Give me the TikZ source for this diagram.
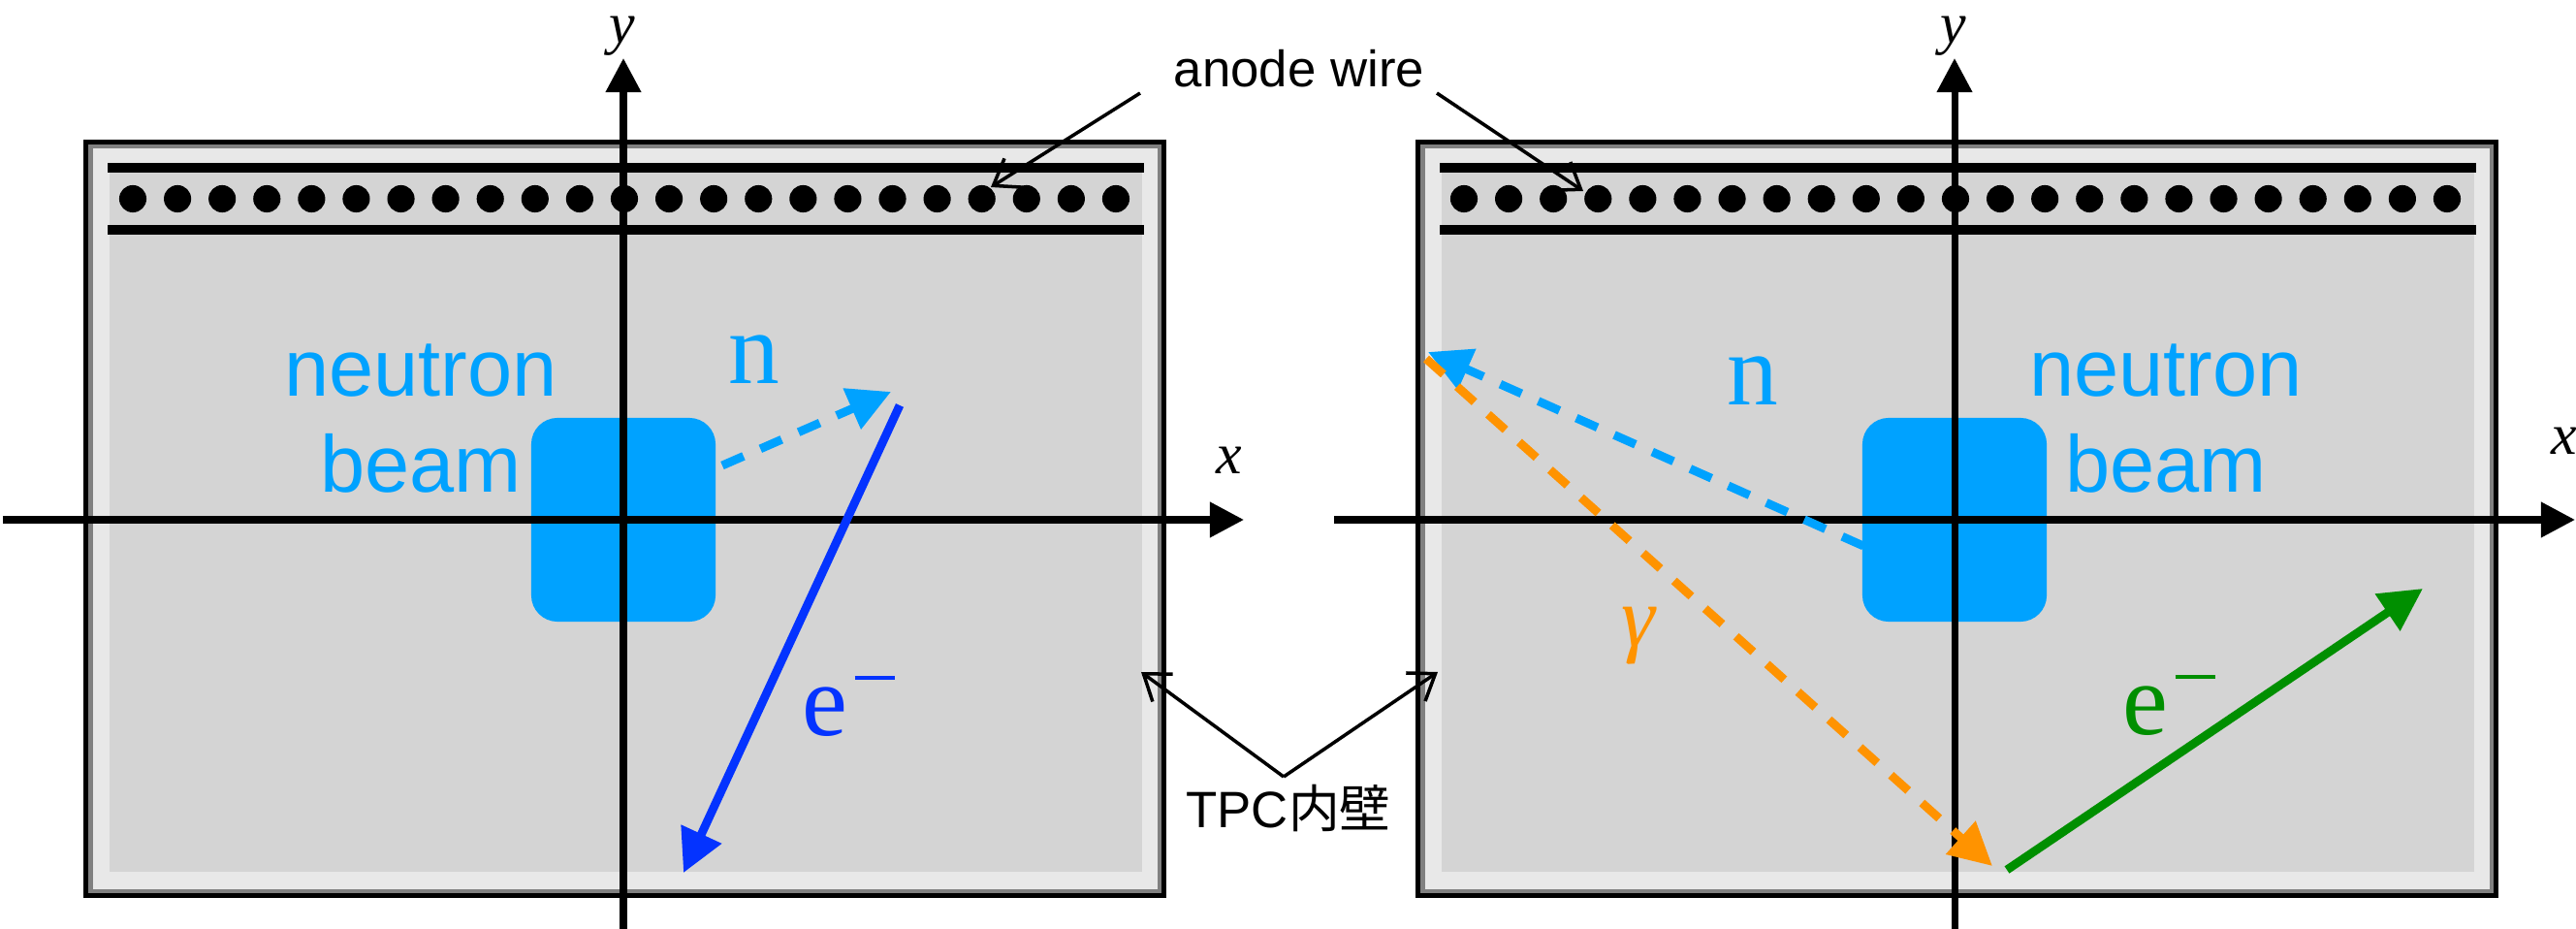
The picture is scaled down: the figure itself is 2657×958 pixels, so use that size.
\documentclass[tikz,border=0pt]{standalone}
\usepackage{fontspec}
\setmainfont{Liberation Serif}
\setsansfont{Liberation Sans}
\newfontfamily\cjk{Noto Sans CJK JP}
\usetikzlibrary{arrows.meta}
\definecolor{beamcyan}{RGB}{0,162,255}
\definecolor{eblue}{RGB}{4,51,255}
\definecolor{egreen}{RGB}{0,143,0}
\definecolor{gorange}{RGB}{255,147,0}
\definecolor{wallgray}{RGB}{212,212,212}
\definecolor{bandgray}{RGB}{232,232,232}
\definecolor{edgegray}{RGB}{128,128,128}
\newcommand{\eminus}{e\hspace{2pt}\rule[16.3pt]{11.7pt}{1.1pt}}
\begin{document}
\begin{tikzpicture}[x=0.01cm,y=-0.01cm,
  axis/.style={line width=2pt,-{Triangle[length=10pt,width=10pt]}},
  track/.style={line width=2.5pt,-{Triangle[length=12.5pt,width=12.5pt]}},
  dashtrack/.style={track,dash pattern=on 6.8pt off 5.4pt},
  callout/.style={line width=1pt,-{Straight Barb[length=7pt,width=10pt]}},
  wire/.style={line width=2.85pt},
  sanslabel/.style={font=\sffamily\fontsize{15}{18}\selectfont,inner sep=0pt},
  beamlabel/.style={font=\sffamily\fontsize{23.6}{28}\selectfont,text=beamcyan,inner sep=0pt},
  particle/.style={font=\fontsize{30}{36}\selectfont,inner sep=0pt},
  axislabel/.style={font=\itshape\fontsize{17}{20}\selectfont,inner sep=0pt},
  beambox/.style={fill=beamcyan,rounded corners=7.7pt,minimum width=1.9cm,minimum height=2.1cm,inner sep=0pt}]
\useasboundingbox (0,0) rectangle (2657,958);
% TPC panels
\foreach \dx in {0,1374} {
  \fill[black] (86+\dx,144) rectangle (1203+\dx,926);
  \fill[edgegray] (91+\dx,149) rectangle (1198+\dx,921);
  \fill[bandgray] (96+\dx,153) rectangle (1194+\dx,917);
  \fill[wallgray] (113+\dx,168) rectangle (1178+\dx,899);
  \draw[wire] (111+\dx,173) -- (1180+\dx,173);
  \draw[wire] (111+\dx,237) -- (1180+\dx,237);
}
\foreach \i in {0,...,22} {
  \fill[black] (137+46.09*\i,205) circle[radius=4pt];
  \fill[black] (1510+46.09*\i,205) circle[radius=4pt];
}
% neutron beam boxes
\node[beambox] (boxL) at (643,536) {};
\node[beambox] (boxR) at (2016,536) {};
% axes
\coordinate (xL0) at (3,536);   \coordinate (xL1) at (1283,536);
\coordinate (yL0) at (643,958); \coordinate (yL1) at (643,60);
\coordinate (xR0) at (1376,536); \coordinate (xR1) at (2656,536);
\coordinate (yR0) at (2016,958); \coordinate (yR1) at (2016,60);
\draw[axis] (xL0) -- (xL1);
\draw[axis] (yL0) -- (yL1);
\draw[axis] (xR0) -- (xR1);
\draw[axis] (yR0) -- (yR1);
\node[axislabel] (xlabL) at (1268,475) {x};
\node[axislabel] (ylabL) at (642,37) {y};
\node[axislabel] (xlabR) at (2645,455) {x};
\node[axislabel] (ylabR) at (2015,37) {y};
% labels
\node[beamlabel,anchor=base] (neuL) at (434,409) {neutron};
\node[beamlabel,anchor=base] (beamL) at (434,508) {beam};
\node[beamlabel,anchor=base] (neuR) at (2234,409) {neutron};
\node[beamlabel,anchor=base] (beamR) at (2234,508) {beam};
\node[particle,text=beamcyan,anchor=base] (nL) at (778,396) {n};
\node[particle,text=beamcyan,anchor=base] (nR) at (1808,418) {n};
\node[particle,text=eblue,anchor=base west] (eL) at (827,758) {\eminus};
\node[particle,text=egreen,anchor=base west] (eR) at (2189,757) {\eminus};
\node[particle,text=gorange,font=\fontsize{25}{30}\selectfont] (gam) at (1691,656) {\textit{γ}};
% tracks
\coordinate (nLs) at (745,480);  \coordinate (nLt) at (919,404);
\coordinate (eLs) at (928,418);  \coordinate (eLt) at (705,900);
\coordinate (nRs) at (1922,563); \coordinate (nRt) at (1473,363);
\coordinate (gRs) at (1471,370); \coordinate (gRt) at (2055,893);
\coordinate (eRs) at (2070,897); \coordinate (eRt) at (2499,607);
\draw[dashtrack,beamcyan] (nLs) -- (nLt);
\draw[track,eblue] (eLs) -- (eLt);
\draw[dashtrack,beamcyan] (nRs) -- (nRt);
\draw[dashtrack,gorange] (gRs) -- (gRt);
\draw[track,egreen] (eRs) -- (eRt);
% callouts
\node[sanslabel,anchor=base] (anode) at (1340,90) {anode wire};
\coordinate (anLs) at (1176,96);  \coordinate (anLt) at (1022,193);
\coordinate (anRs) at (1482,96);  \coordinate (anRt) at (1633,197);
\draw[callout] (anLs) -- (anLt);
\draw[callout] (anRs) -- (anRt);
\node[sanslabel,anchor=base] (tpc) at (1329,853) {TPC{\cjk 内壁}};
\coordinate (tpcApex) at (1324,801);
\coordinate (tpcLt) at (1177,693); \coordinate (tpcRt) at (1483,693);
\draw[callout] (tpcApex) -- (tpcLt);
\draw[callout] (tpcApex) -- (tpcRt);
\end{tikzpicture}
\end{document}
